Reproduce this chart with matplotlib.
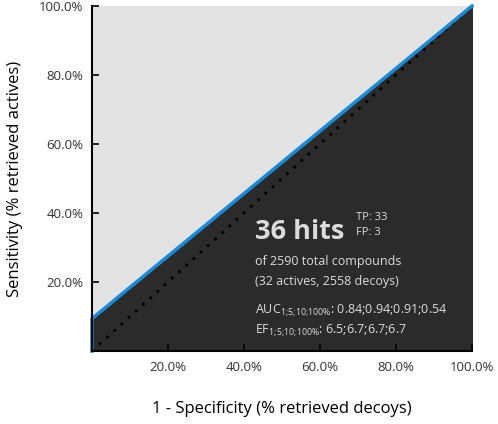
import matplotlib
matplotlib.use('Agg')
import matplotlib.pyplot as plt
from matplotlib.ticker import FuncFormatter

plt.rcParams['font.family'] = ['Open Sans', 'DejaVu Sans']
plt.rcParams['mathtext.fontset'] = 'custom'
plt.rcParams['mathtext.rm'] = 'Open Sans'
plt.rcParams['mathtext.default'] = 'regular'

# ROC curve points (% decoys, % actives)
fpr = [0.0, 0.0, 100.0]
tpr = [0.0, 9.375, 100.0]
xticks = [20, 40, 60, 80, 100]
yticks = [20, 40, 60, 80, 100]

hits = 36
tp = 33
fp = 3
total = 2590
actives = 32
decoys = 2558
auc = [0.84, 0.94, 0.91, 0.54]
ef = [6.5, 6.7, 6.7, 6.7]

fig = plt.figure(figsize=(4.98, 4.24), dpi=100)
ax = fig.add_axes([0.1847, 0.1722, 0.763, 0.8137])
ax.set_facecolor('#e3e3e3')

ax.fill_between(fpr, tpr, 0, color='#2b2b2b', zorder=1)
ax.plot([0, 100], [0, 100], linestyle=(0, (1, 2.5)), color='black', lw=2, zorder=2)
ax.plot(fpr, tpr, color='#1a8bd6', lw=2.5, zorder=3, clip_on=False)

ax.set_xlim(0, 100)
ax.set_ylim(0, 100)
ax.set_xticks(xticks)
ax.set_yticks(yticks)
fmt = FuncFormatter(lambda v, p: f'{v:.1f}%')
ax.xaxis.set_major_formatter(fmt)
ax.yaxis.set_major_formatter(fmt)
ax.tick_params(direction='in', length=5, width=1.2, labelsize=9.5, labelcolor='#333333', pad=7)
ax.tick_params(axis='y', pad=6)
for s in ['top', 'right']:
    ax.spines[s].set_visible(False)
for s in ['left', 'bottom']:
    ax.spines[s].set_linewidth(1.5)
    ax.spines[s].set_zorder(4)

ax.set_xlabel('1 - Specificity (% retrieved decoys)', fontsize=12, labelpad=20)
ax.set_ylabel('Sensitivity (% retrieved actives)', fontsize=12, labelpad=12)

tc = '#dcdcdc'
sub = r'$_{1;\!5;\!10;\!100\%}$'
ax.text(42.9, 34.5, f'{hits} hits', fontsize=19.5, fontweight='bold', color=tc,
        va='center', ha='left', zorder=5)
ax.text(69.5, 38.8, f'TP: {tp}', fontsize=8, color=tc, va='center', zorder=5)
ax.text(69.5, 34.2, f'FP: {fp}', fontsize=8, color=tc, va='center', zorder=5)
ax.text(42.9, 26.0, f'of {total} total compounds', fontsize=9, color=tc, va='center', zorder=5)
ax.text(42.9, 20.2, f'({actives} actives, {decoys} decoys)', fontsize=9, color=tc, va='center', zorder=5)
ax.text(42.9, 11.8, 'AUC' + sub + ': ' + ';'.join(f'{v:.2f}' for v in auc),
        fontsize=9, color=tc, va='center', zorder=5)
ax.text(42.9, 6.0, 'EF' + sub + ': ' + ';'.join(f'{v:.1f}' for v in ef),
        fontsize=9, color=tc, va='center', zorder=5)

plt.savefig('out.png', dpi=100)
